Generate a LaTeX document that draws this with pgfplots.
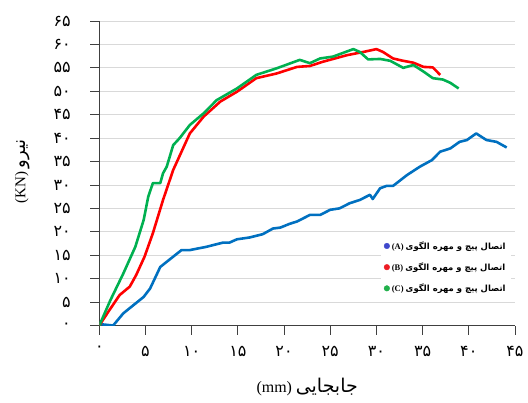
\documentclass[border=0pt]{standalone}
\usepackage{pgfplots}
\pgfplotsset{compat=1.18}
\usepackage{fontspec}
\setmainfont{Liberation Serif}
\newfontfamily\fa[Script=Arabic]{DejaVu Sans}
\TeXXeTstate=1
\definecolor{lineA}{HTML}{0070C0}
\definecolor{lineB}{HTML}{FF0000}
\definecolor{lineC}{HTML}{00B050}
\definecolor{dotA}{HTML}{3F48CC}
\definecolor{dotB}{HTML}{ED1C24}
\definecolor{dotC}{HTML}{22B14C}
\definecolor{axisgray}{HTML}{404040}
\definecolor{gridgray}{HTML}{D9D9D9}
\begin{document}
\begin{tikzpicture}
\begin{axis}[
  scale only axis, width=415.7bp, height=304.5bp,
  xmin=0, xmax=45, ymin=0, ymax=65,
  axis x line=bottom, axis y line=left,
  axis line style={-, draw=axisgray, line width=0.8pt},
  xtick={0,5,...,45}, ytick={0,5,...,65},
  xticklabels={۰,۵,۱۰,۱۵,۲۰,۲۵,۳۰,۳۵,۴۰,۴۵},
  yticklabels={۰,۵,۱۰,۱۵,۲۰,۲۵,۳۰,۳۵,۴۰,۴۵,۵۰,۵۵,۶۰,۶۵},
  tick align=outside, major tick length=9bp,
  tick style={draw=axisgray, line width=0.8pt},
  ymajorgrids, grid style={gridgray, line width=0.8pt},
  ticklabel style={font=\fa\fontsize{16}{18}\selectfont},
  xticklabel style={yshift=-8bp},
  yticklabel style={xshift=-16bp},
  xlabel={\fontsize{16}{18}\selectfont(mm) {\fa\fontsize{19}{20}\selectfont جابجایی}},
  ylabel={\fontsize{15}{17}\selectfont(KN) {\fa\fontsize{18}{20}\selectfont نیرو}},
  xlabel style={at={(axis description cs:0.5,0)}, anchor=center, yshift=-62bp},
  ylabel style={at={(axis description cs:0,0.5)}, anchor=center, yshift=77bp, xshift=2bp},
  legend style={at={(0.99,0.29)}, anchor=north east, draw=none, fill=white,
    font=\bfseries\fontsize{8.5}{9}\selectfont, row sep=8bp},
  legend cell align=left,
]
\addplot[lineA, line width=2.6pt, line join=round, forget plot] coordinates {
(0,0.3) (1.5,0) (2.6,2.6) (4.8,6.1) (5.5,7.9) (6.6,12.5) (7.3,13.6) (8.9,16.1)
(9.8,16.1) (11.6,16.8) (13.4,17.7) (14.1,17.7) (14.9,18.4) (16.3,18.8) (17.7,19.5)
(18.8,20.7) (19.6,20.9) (20.6,21.7) (21.4,22.2) (22.8,23.6) (23.9,23.6) (25.0,24.7)
(26.0,25.0) (27.1,26.1) (28.2,26.8) (29.3,27.9) (29.6,27.0) (30.4,29.3) (31.1,29.8)
(31.8,29.8) (33.3,32.1) (34.7,33.9) (36.0,35.3) (36.9,37.1) (38.0,37.8) (39.0,39.2)
(39.8,39.6) (40.8,41.0) (41.9,39.6) (43.0,39.2) (44.1,38.0)
};
\addplot[lineB, line width=2.6pt, line join=round, forget plot] coordinates {
(0,0) (1,3) (2.2,6.5) (3.3,8.3) (4.0,10.8) (4.9,14.7) (5.8,19.7) (6.9,26.8)
(8.0,33.2) (9.8,41.0) (11.3,44.6) (13.1,47.8) (14.9,49.9) (17.0,52.8) (19.2,53.8)
(21.4,55.2) (22.8,55.4) (24.2,56.3) (26.8,57.7) (28.6,58.4) (30.0,59.0) (30.7,58.4)
(31.8,57.0) (32.9,56.5) (34.0,56.1) (35.1,55.2) (36.1,55.1) (36.9,53.5)
};
\addplot[lineC, line width=2.6pt, line join=round, forget plot] coordinates {
(0,0) (1.2,5.4) (2.6,11.1) (3.9,16.8) (4.8,22.5) (5.3,27.5) (5.8,30.4) (6.6,30.4)
(6.9,32.5) (7.3,33.9) (8.0,38.5) (8.7,40.0) (9.8,42.8) (11.3,45.3) (12.7,48.1)
(14.9,50.6) (17.0,53.5) (19.2,54.9) (21.7,56.7) (22.8,56.0) (23.9,57.0) (25.3,57.4)
(27.5,59.0) (28.2,58.4) (29.1,56.8) (30.4,56.9) (31.5,56.5) (32.9,55.0) (34.0,55.6)
(35.1,54.2) (36.1,52.8) (37.2,52.5) (38.0,51.8) (38.9,50.6)
};
\addlegendimage{legend image code/.code={\fill[dotA] (3bp,0bp) circle (2.8bp);}}
\addlegendentry{(A) {\fa\beginR اتصال پیچ و مهره الگوی\endR}}
\addlegendimage{legend image code/.code={\fill[dotB] (3bp,0bp) circle (2.8bp);}}
\addlegendentry{(B) {\fa\beginR اتصال پیچ و مهره الگوی\endR}}
\addlegendimage{legend image code/.code={\fill[dotC] (3bp,0bp) circle (2.8bp);}}
\addlegendentry{(C) {\fa\beginR اتصال پیچ و مهره الگوی\endR}}
\end{axis}
\pgfresetboundingbox
\path[use as bounding box] (current axis.south west) ++(-99.3bp,-77.5bp) rectangle ++(528bp,403bp);
\end{tikzpicture}
\end{document}
